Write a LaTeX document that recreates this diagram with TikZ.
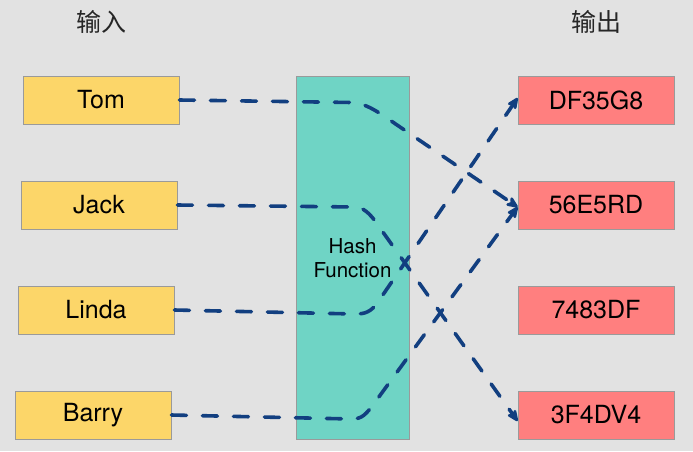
\documentclass[tikz,border=0pt]{standalone}
\usepackage{fontspec}
\setmainfont{TeX Gyre Heros}
\newfontfamily\cjk{Noto Sans CJK SC}
\usetikzlibrary{arrows.meta,shadows}
\definecolor{bgc}{HTML}{E2E2E2}
\definecolor{inc}{HTML}{FCD669}
\definecolor{outc}{HTML}{FF7F7F}
\definecolor{hashc}{HTML}{6FD4C5}
\definecolor{linec}{HTML}{123F80}
\definecolor{edgec}{HTML}{9A9A9A}
\begin{document}
\begin{tikzpicture}[x=1pt,y=-1pt,
  box/.style={draw=edgec, line width=0.9pt, minimum width=156pt, minimum height=48pt,
    inner sep=0pt, font=\fontsize{25}{28}\selectfont,
    drop shadow={shadow xshift=0.8pt, shadow yshift=-1.4pt, opacity=0.35, fill=black}},
  inbox/.style={box, fill=inc},
  outbox/.style={box, fill=outc},
  conn/.style={draw=linec, line width=3.6pt, line cap=round, dash pattern=on 15pt off 16pt,
    -{Stealth[length=15pt,width=13pt,inset=4.5pt,round]}},
  title/.style={font=\cjk\fontsize{25}{28}\selectfont, text=black!85}]
\fill[bgc] (0,0) rectangle (693,451);
\useasboundingbox (0,0) rectangle (693,451);

\node[title] (tin) at (101,22) {输入};
\node[title] (tout) at (596,22) {输出};

\node[draw=edgec, line width=0.9pt, fill=hashc, minimum width=113pt, minimum height=363pt,
  inner sep=0pt] (hash) at (352.5,257.5) {};
\node[align=center, font=\fontsize{20.5}{24.5}\selectfont] (htext) at (352.5,258) {Hash\\Function};

\node[inbox] (tom) at (101,100) {Tom};
\node[inbox] (jack) at (99,205) {Jack};
\node[inbox] (linda) at (96,310) {Linda};
\node[inbox] (barry) at (93,415) {Barry};

\node[outbox] (o1) at (596,100) {DF35G8};
\node[outbox] (o2) at (596,205) {56E5RD};
\node[outbox] (o3) at (596,310) {7483DF};
\node[outbox] (o4) at (596,415) {3F4DV4};

\draw[conn] (tom.east) -- (352,102.5) .. controls (368,103) and (385,117) .. (400,127) -- ([yshift=-2pt]o2.west);
\draw[conn] (jack.east) -- (355,207) .. controls (363,207) and (370,214) .. (375,221) -- ([yshift=-6pt]o4.west);
\draw[conn] (linda.east) -- (355,314) .. controls (365,314) and (371,312) .. (378,302) -- ([yshift=2pt]o1.west);
\draw[conn] (barry.east) -- (352,419) .. controls (362,419) and (366,414) .. (373,405) -- ([yshift=-2pt]o2.west);
\end{tikzpicture}
\end{document}
